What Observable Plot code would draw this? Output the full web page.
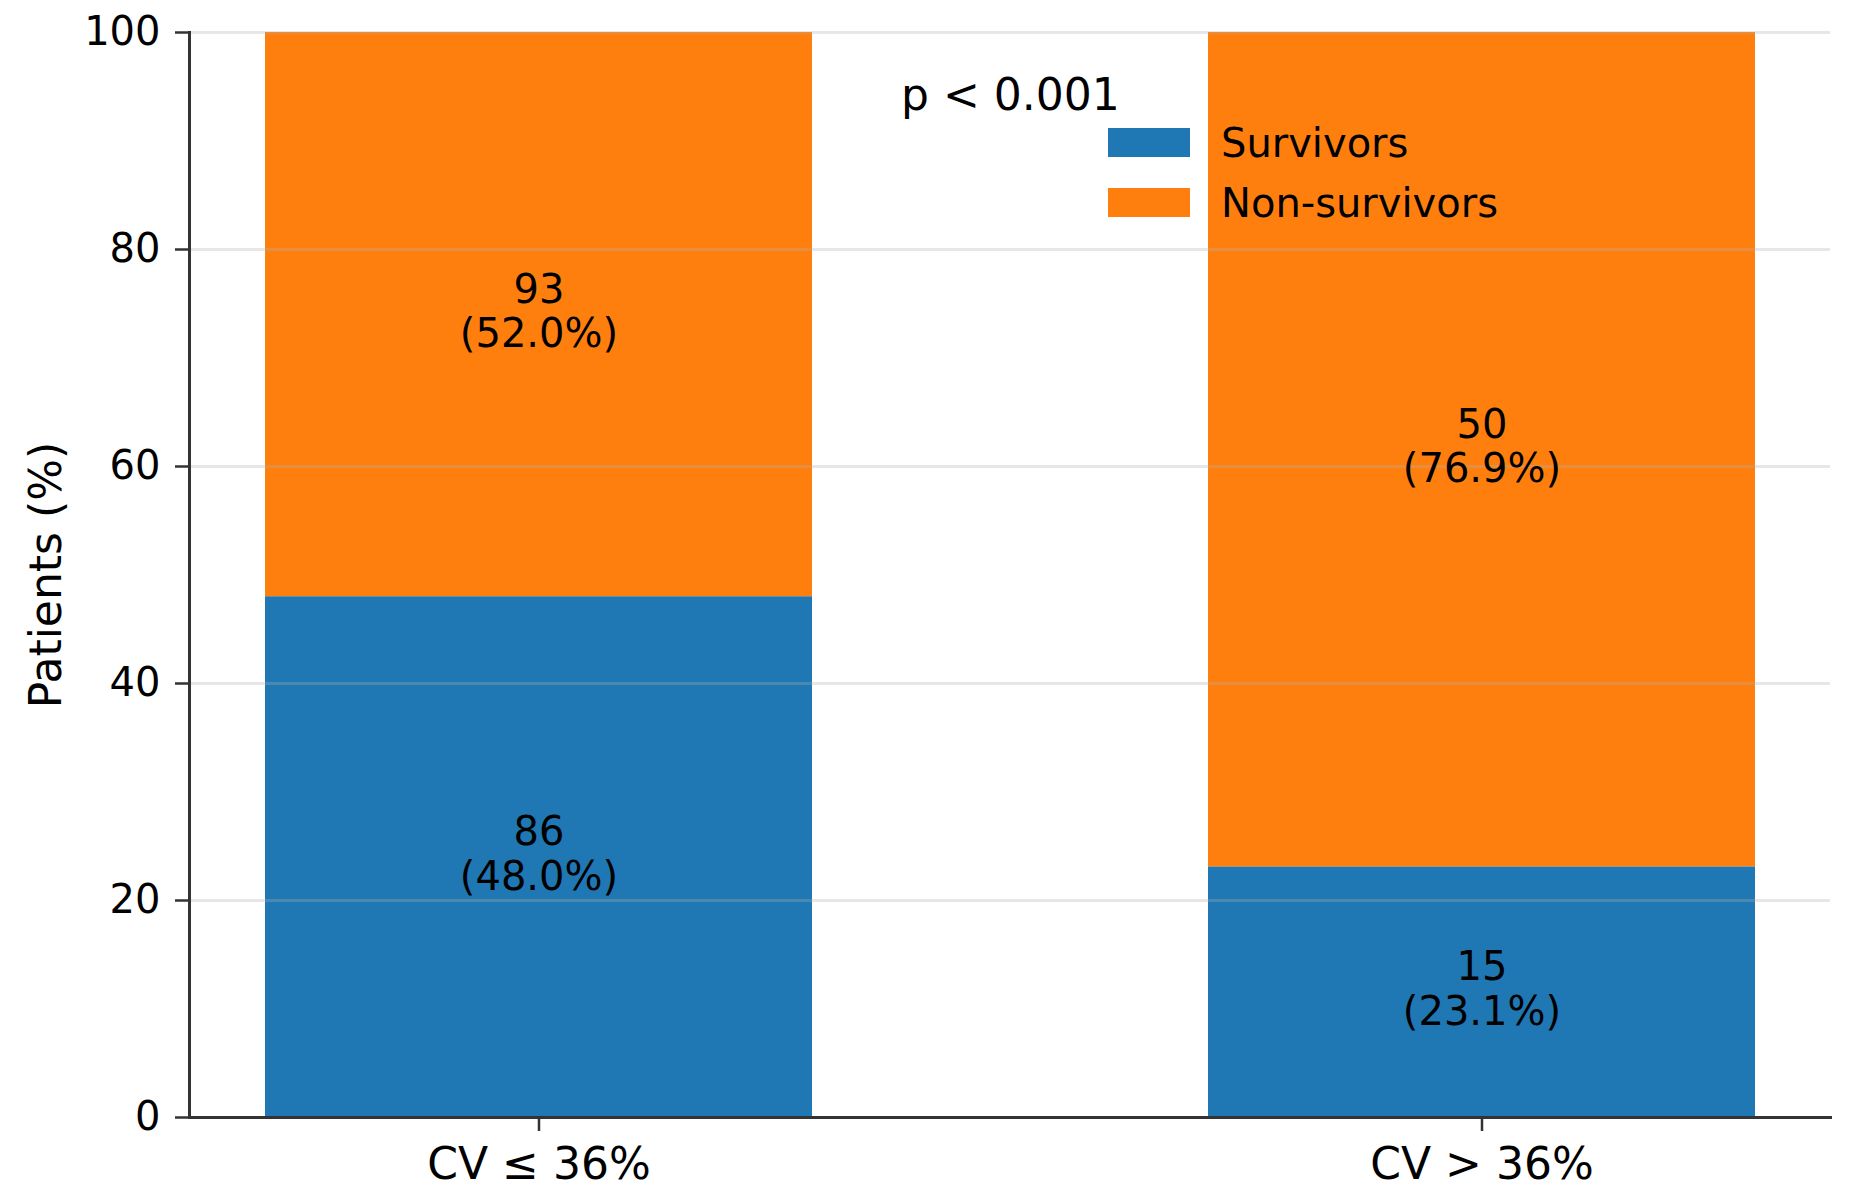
<!DOCTYPE html>
<html>
<head>
<meta charset="utf-8">
<script src="https://cdn.jsdelivr.net/npm/d3@7"></script>
<script src="https://cdn.jsdelivr.net/npm/@observablehq/plot@0.6"></script>
<style>
  html, body { margin: 0; padding: 0; background: white; }
  #wrap { position: relative; width: 1851px; height: 1201px; font-family: "DejaVu Sans", sans-serif; color: black; }
  #pval { position: absolute; left: 901px; top: 73px; font-size: 44px; line-height: 1; white-space: nowrap; }
  #legend { position: absolute; left: 1108px; top: 128px; }
  .row { display: flex; align-items: center; height: 29px; margin-bottom: 31px; }
  .sw { width: 82px; height: 29px; }
  .lab { margin-left: 31px; font-size: 40px; white-space: nowrap; }
</style>
</head>
<body>
<div id="wrap"></div>
<script>
// ---- data ----
const groups = ["CV ≤ 36%", "CV > 36%"];
const statuses = ["Survivors", "Non-survivors"];
const survivorCounts = [86, 15];
const nonSurvivorCounts = [93, 50];
const survivorPct = [48.0, 23.1];
const nonSurvivorPct = [52.0, 76.9];
const yTicks = [0, 20, 40, 60, 80, 100];
const colors = ["#1f77b4", "#ff7f0e"];
const pValueText = "p < 0.001";
const yLabel = "Patients (%)";

const data = groups.flatMap((g, i) => [
  {group: g, status: statuses[0], count: survivorCounts[i], pct: survivorPct[i]},
  {group: g, status: statuses[1], count: nonSurvivorCounts[i], pct: nonSurvivorPct[i]}
]);

const spine = "#333333";

const chart = Plot.plot({
  width: 1851,
  height: 1201,
  marginLeft: 189,
  marginRight: 21,
  marginTop: 32,
  marginBottom: 84,
  style: {fontFamily: "DejaVu Sans", background: "white", color: "black"},
  x: {domain: groups, paddingInner: 0.42, paddingOuter: 0.08},
  y: {domain: [0, 100]},
  color: {domain: statuses, range: colors},
  marks: [
    Plot.barY(data, {x: "group", y: "pct", fill: "status"}),
    Plot.gridY(yTicks.slice(1), {stroke: "#b0b0b0", strokeOpacity: 0.3, strokeWidth: 3}),
    Plot.text(data, Plot.stackY({
      x: "group", y: "pct",
      text: d => `${d.count}\n(${d.pct.toFixed(1)}%)`,
      fontSize: 40, lineHeight: 1.12, dy: -4, fill: "black"
    })),
    Plot.frame({anchor: "left", stroke: spine, strokeWidth: 3}),
    Plot.frame({anchor: "bottom", stroke: spine, strokeWidth: 3}),
    Plot.axisX({tickSize: 14, tickPadding: 16, fontSize: 44, label: null, stroke: spine, strokeWidth: 2.5, fill: "black"}),
    Plot.axisY({ticks: yTicks, tickSize: 14, tickPadding: 15, fontSize: 40, stroke: spine, strokeWidth: 2.5, fill: "black", label: null}),
    Plot.text([yLabel], {frameAnchor: "left", textAnchor: "middle", rotate: -90, dx: -143, fontSize: 44, fill: "black"})
  ]
});

const wrap = document.getElementById("wrap");
wrap.appendChild(chart);

const pv = document.createElement("div");
pv.id = "pval";
pv.textContent = pValueText;
wrap.appendChild(pv);

const legend = document.createElement("div");
legend.id = "legend";
statuses.forEach((s, i) => {
  const row = document.createElement("div");
  row.className = "row";
  const sw = document.createElement("div");
  sw.className = "sw";
  sw.style.background = colors[i];
  const lab = document.createElement("span");
  lab.className = "lab";
  lab.textContent = s;
  row.appendChild(sw);
  row.appendChild(lab);
  legend.appendChild(row);
});
wrap.appendChild(legend);
</script>
</body>
</html>
